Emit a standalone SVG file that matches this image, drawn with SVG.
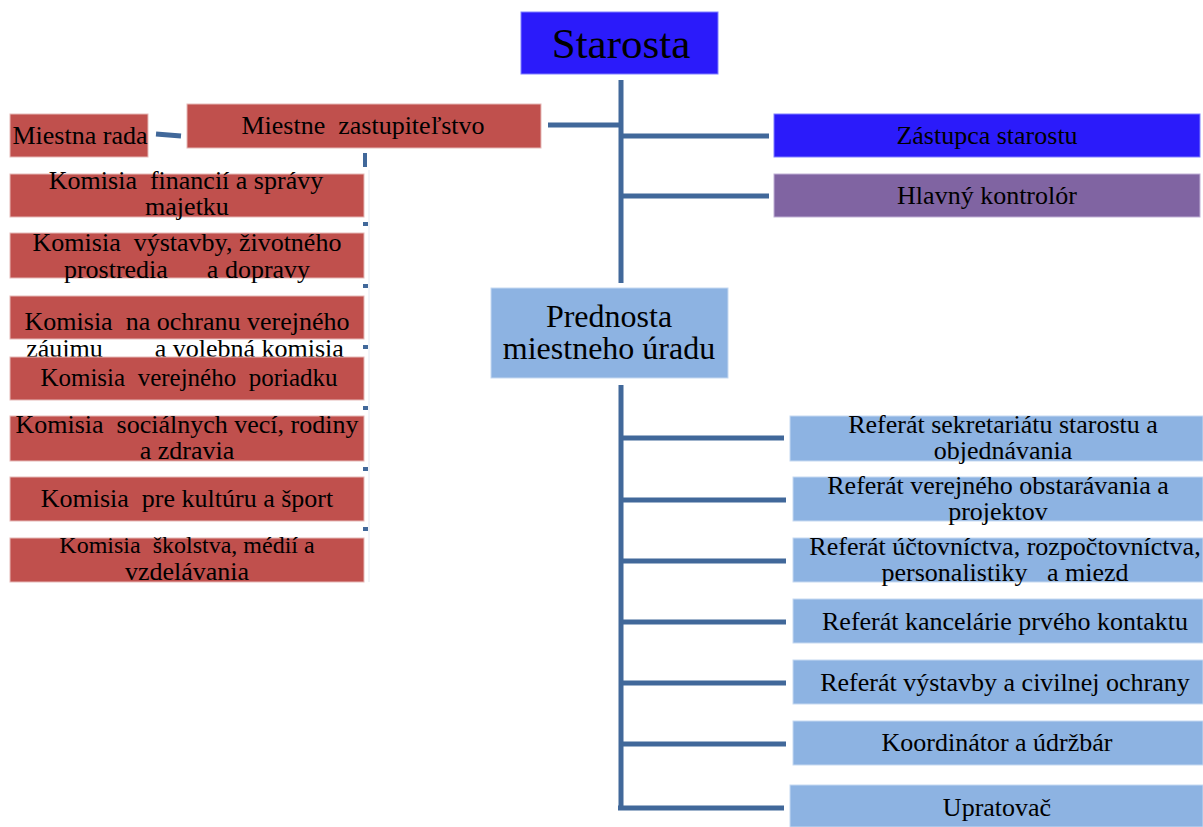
<svg xmlns="http://www.w3.org/2000/svg" width="1203" height="827" viewBox="0 0 1203 827">
<style>
.t text{fill:#000;text-anchor:middle;white-space:pre}
.red{fill:#C0504D;stroke:#E6B9B8;stroke-width:1}
.lb{fill:#8DB3E2;stroke:#C6D9F1;stroke-width:1}
.bl{fill:#2B1BFA;stroke:#8080ff;stroke-width:1}
.pu{fill:#8064A2;stroke:#C0B0D6;stroke-width:1}
.ln{stroke:#41689A;stroke-width:5;fill:none}
.tk{stroke:#41689A;stroke-width:4;fill:none}
</style>
<rect width="1203" height="827" fill="#fff"/>
<g id="connectors">
<line class="ln" x1="621" y1="80" x2="621" y2="283"/>
<line class="ln" x1="548" y1="125" x2="621" y2="125"/>
<line class="ln" x1="621" y1="136" x2="769" y2="136"/>
<line class="ln" x1="621" y1="196" x2="769" y2="196"/>
<line class="ln" x1="621" y1="385" x2="621" y2="808"/>
<line class="ln" x1="621" y1="438" x2="784" y2="438"/>
<line class="ln" x1="621" y1="500" x2="786" y2="500"/>
<line class="ln" x1="621" y1="561" x2="786" y2="561"/>
<line class="ln" x1="621" y1="622" x2="786" y2="622"/>
<line class="ln" x1="621" y1="683" x2="786" y2="683"/>
<line class="ln" x1="621" y1="744" x2="786" y2="744"/>
<line class="ln" x1="618" y1="808" x2="784" y2="808"/>
<line class="ln" x1="156" y1="134" x2="181" y2="136"/>
<line stroke="#E3E8F0" stroke-width="1" x1="369" y1="170" x2="369" y2="582"/>
<line class="tk" x1="365" y1="153" x2="365" y2="167"/>
<line class="tk" x1="363" y1="224" x2="368" y2="224"/>
<line class="tk" x1="363" y1="286" x2="368" y2="286"/>
<line class="tk" x1="363" y1="347" x2="368" y2="347"/>
<line class="tk" x1="363" y1="408" x2="368" y2="408"/>
<line class="tk" x1="363" y1="469" x2="368" y2="469"/>
<line class="tk" x1="363" y1="529" x2="368" y2="529"/>
</g>
<g class="t" font-family="Liberation Serif, Times New Roman, serif" font-size="26">
<g id="starosta"><rect class="bl" x="521" y="12" width="197" height="62"/><text x="621" y="58" font-size="43">Starosta</text></g>
<g id="zastupitelstvo"><rect class="red" x="187" y="104" width="354" height="44"/><text x="363" y="134">Miestne  zastupiteľstvo</text></g>
<g id="miestna-rada"><rect class="red" x="10" y="114" width="138" height="43"/><text x="80" y="144">Miestna rada</text></g>
<g id="zastupca"><rect class="bl" x="774" y="114" width="426" height="43"/><text x="987" y="144">Zástupca starostu</text></g>
<g id="kontrolor"><rect class="pu" x="774" y="174" width="426" height="43"/><text x="987" y="204">Hlavný kontrolór</text></g>
<g id="prednosta"><rect class="lb" x="491" y="288" width="237" height="90"/><text x="609" y="327" font-size="32">Prednosta</text><text x="609" y="359" font-size="32">miestneho úradu</text></g>
<g id="k-financii"><rect class="red" x="10" y="174" width="354" height="43"/><text x="186" y="189">Komisia  financií a správy</text><text x="187" y="215">majetku</text></g>
<g id="k-vystavby"><rect class="red" x="10" y="233" width="354" height="45"/><text x="187" y="251">Komisia  výstavby, životného</text><text x="187" y="278">prostredia      a dopravy</text></g>
<g id="k-ochrana"><rect class="red" x="10" y="296" width="354" height="43"/><text x="187" y="330">Komisia  na ochranu verejného</text><text x="185" y="357">záujmu        a volebná komisia</text></g>
<g id="k-poriadku"><rect class="red" x="10" y="357" width="354" height="43"/><text x="189" y="386" font-size="25">Komisia  verejného  poriadku</text></g>
<g id="k-socialnych"><rect class="red" x="10" y="416" width="354" height="45"/><text x="187" y="433">Komisia  sociálnych vecí, rodiny</text><text x="187" y="459">a zdravia</text></g>
<g id="k-kultura"><rect class="red" x="10" y="477" width="354" height="44"/><text x="187" y="507">Komisia  pre kultúru a šport</text></g>
<g id="k-skolstva"><rect class="red" x="10" y="538" width="354" height="44"/><text x="187" y="553" font-size="24">Komisia  školstva, médií a</text><text x="187" y="580">vzdelávania</text></g>
<g id="r-sekretariat"><rect class="lb" x="790" y="416" width="413" height="45"/><text x="1003" y="433">Referát sekretariátu starostu a</text><text x="1003" y="459">objednávania</text></g>
<g id="r-obstaravanie"><rect class="lb" x="793" y="477" width="410" height="44"/><text x="998" y="494">Referát verejného obstarávania a</text><text x="998" y="520">projektov</text></g>
<g id="r-uctovnictvo"><rect class="lb" x="793" y="538" width="410" height="44"/><text x="1005" y="555">Referát účtovníctva, rozpočtovníctva,</text><text x="1005" y="581">personalistiky   a miezd</text></g>
<g id="r-kancelaria"><rect class="lb" x="793" y="599" width="410" height="44"/><text x="1005" y="630">Referát kancelárie prvého kontaktu</text></g>
<g id="r-vystavba"><rect class="lb" x="793" y="660" width="410" height="44"/><text x="1005" y="691">Referát výstavby a civilnej ochrany</text></g>
<g id="koordinator"><rect class="lb" x="793" y="721" width="410" height="44"/><text x="997" y="751">Koordinátor a údržbár</text></g>
<g id="upratovac"><rect class="lb" x="790" y="785" width="413" height="42"/><text x="997" y="816">Upratovač</text></g>
</g>
</svg>
